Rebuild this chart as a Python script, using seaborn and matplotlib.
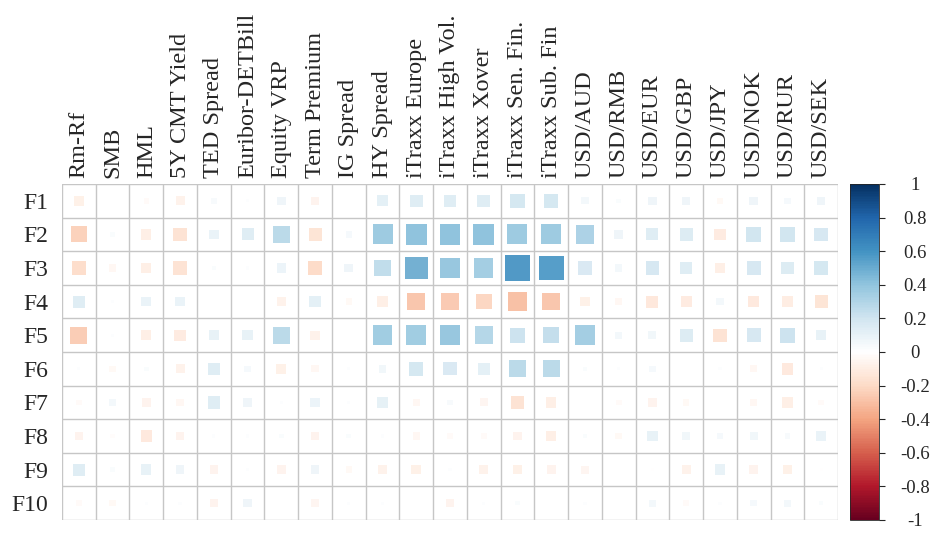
import matplotlib
matplotlib.use("Agg")

import matplotlib.pyplot as plt
import numpy as np
import pandas as pd
import seaborn as sns
from matplotlib.colors import LinearSegmentedColormap, Normalize
from matplotlib.cm import ScalarMappable

# ─────────────────────────────────────────────────────────────────────────────
# DATA  (correlations)
# ─────────────────────────────────────────────────────────────────────────────

columns = [
    "Rm-Rf", "SMB", "HML", "5Y CMT Yield", "TED Spread", "Euribor-DETBill",
    "Equity VRP", "Term Premium", "IG Spread", "HY Spread", "iTraxx Europe",
    "iTraxx High Vol.", "iTraxx Xover", "iTraxx Sen. Fin.", "iTraxx Sub. Fin",
    "USD/AUD", "USD/RMB", "USD/EUR", "USD/GBP", "USD/JPY", "USD/NOK",
    "USD/RUR", "USD/SEK",
]
factors = ["F1", "F2", "F3", "F4", "F5", "F6", "F7", "F8", "F9", "F10"]

f1  = [-0.09, 0.00, -0.03, -0.08, 0.03, 0.01, 0.07, -0.07, 0.00, 0.12, 0.15,
       0.14, 0.15, 0.19, 0.19, 0.05, 0.02, 0.07, 0.07, -0.04, 0.07, 0.04, 0.07]
f2  = [-0.25, 0.02, -0.10, -0.17, 0.09, 0.14, 0.28, -0.16, 0.04, 0.38, 0.42,
       0.42, 0.42, 0.38, 0.38, 0.33, 0.07, 0.14, 0.16, -0.12, 0.20, 0.20, 0.18]
f3  = [-0.20, -0.05, -0.10, -0.17, 0.02, 0.01, 0.08, -0.21, 0.07, 0.26, 0.50,
       0.40, 0.36, 0.60, 0.58, 0.17, 0.05, 0.18, 0.14, -0.10, 0.18, 0.16, 0.19]
f4  = [0.14, 0.01, 0.09, 0.09, 0.00, 0.00, -0.08, 0.13, -0.04, -0.10, -0.30,
       -0.28, -0.23, -0.32, -0.30, -0.09, -0.05, -0.14, -0.12, 0.05, -0.13,
       -0.11, -0.16]
f5  = [-0.27, 0.01, -0.10, -0.12, 0.10, 0.10, 0.28, -0.08, 0.00, 0.37, 0.37,
       0.40, 0.30, 0.22, 0.25, 0.36, 0.05, 0.06, 0.16, -0.17, 0.18, 0.22, 0.10]
f6  = [0.01, -0.04, 0.02, -0.08, 0.14, 0.04, -0.09, -0.05, 0.01, 0.06, 0.19,
       0.17, 0.13, 0.28, 0.28, 0.02, 0.01, 0.04, 0.00, 0.01, -0.05, -0.13, 0.01]
f7  = [-0.03, 0.05, -0.07, -0.05, 0.15, 0.07, 0.01, 0.08, 0.01, 0.11, -0.05,
       0.03, -0.06, -0.17, -0.10, 0.00, -0.03, -0.07, -0.04, 0.00, -0.05,
       -0.10, -0.03]
f8  = [-0.07, -0.02, -0.13, -0.07, 0.01, 0.01, 0.02, -0.07, 0.02, 0.01, -0.05,
       -0.03, -0.03, -0.07, -0.10, 0.02, -0.04, 0.10, 0.06, 0.04, 0.06, 0.03,
       0.09]
f9  = [0.14, 0.02, 0.10, 0.07, -0.07, 0.01, -0.07, 0.07, -0.04, -0.08, -0.09,
       0.01, -0.08, -0.09, -0.07, -0.06, 0.00, -0.01, -0.08, 0.10, -0.07,
       -0.09, -0.01]
f10 = [-0.03, -0.04, 0.01, 0.01, -0.07, 0.07, 0.00, -0.06, 0.01, 0.01, 0.00,
       -0.07, 0.01, 0.02, 0.00, 0.01, 0.00, 0.05, -0.03, 0.01, 0.04, 0.05, 0.02]

rows = [f1, f2, f3, f4, f5, f6, f7, f8, f9, f10]

# corrplot's RdBu ramp (white centre)
rdbu_colors = ["#67001F", "#B2182B", "#D6604D", "#F4A582", "#FDDBC7", "#FFFFFF",
               "#D1E5F0", "#92C5DE", "#4393C3", "#2166AC", "#053061"]
cmap = LinearSegmentedColormap.from_list("corr_rdbu", rdbu_colors, N=200)

# ─────────────────────────────────────────────────────────────────────────────
# LONG TABLE
# ─────────────────────────────────────────────────────────────────────────────

records = []
for i, (fac, vals) in enumerate(zip(factors, rows)):
    for j, (col, v) in enumerate(zip(columns, vals)):
        records.append({"factor": fac, "variable": col, "yi": i, "xi": j,
                        "corr": v, "mag": abs(v)})
df = pd.DataFrame(records)

# ─────────────────────────────────────────────────────────────────────────────
# FIGURE
# ─────────────────────────────────────────────────────────────────────────────

sns.set_style("white")
serif = ["Liberation Serif", "DejaVu Serif"]
plt.rcParams["font.family"] = serif

W, H, DPI = 935, 533, 100
fig = plt.figure(figsize=(W / DPI, H / DPI), dpi=DPI)
ax_l, ax_r, ax_t, ax_b = 62, 838, 184, 520
ax = fig.add_axes([ax_l / W, 1 - ax_b / H, (ax_r - ax_l) / W, (ax_b - ax_t) / H])

# cell size in points -> square area proportional to |r|
cell_pt = (ax_r - ax_l) / len(columns) * 72 / DPI
smax = (cell_pt * 0.96) ** 2

sns.scatterplot(
    data=df, x="xi", y="yi", hue="corr", size="mag",
    palette=cmap, hue_norm=(-1, 1), sizes=(0, smax), size_norm=(0, 1),
    marker="s", linewidth=0, alpha=0.92, legend=False, ax=ax,
)

ax.set_xlim(-0.5, len(columns) - 0.5)
ax.set_ylim(len(factors) - 0.5, -0.5)

# grid lines between cells
grid_col = "#c6c6c6"
for k in range(len(columns) + 1):
    ax.axvline(k - 0.5, color=grid_col, lw=1.0, zorder=0)
for k in range(len(factors) + 1):
    ax.axhline(k - 0.5, color=grid_col, lw=1.0, zorder=0)
for sp in ax.spines.values():
    sp.set_visible(False)

ax.xaxis.tick_top()
ax.set_xticks(range(len(columns)))
ax.set_xticklabels(columns, rotation=90, fontsize=17.5, family=serif)
ax.set_yticks(range(len(factors)))
ax.set_yticklabels(factors, fontsize=17, family=serif)
ax.tick_params(axis="x", length=0, pad=4)
ax.tick_params(axis="y", length=0, pad=10)
ax.set_xlabel("")
ax.set_ylabel("")

# colour bar
cax = fig.add_axes([850 / W, 1 - ax_b / H, 29 / W, (ax_b - ax_t) / H])
sm = ScalarMappable(norm=Normalize(-1, 1), cmap=cmap)
cb = fig.colorbar(sm, cax=cax)
ticks = np.round(np.arange(-1, 1.01, 0.2), 1)
cb.set_ticks(ticks)
cb.set_ticklabels([f"{t:g}" if t != 0 else "0" for t in ticks])
cb.ax.tick_params(labelsize=13.5, length=4, width=0.8, pad=22)
for lab in cb.ax.get_yticklabels():
    lab.set_family(serif)
    lab.set_horizontalalignment("center")
cb.outline.set_linewidth(0.6)

plt.savefig("out.png", dpi=DPI)
plt.close()
